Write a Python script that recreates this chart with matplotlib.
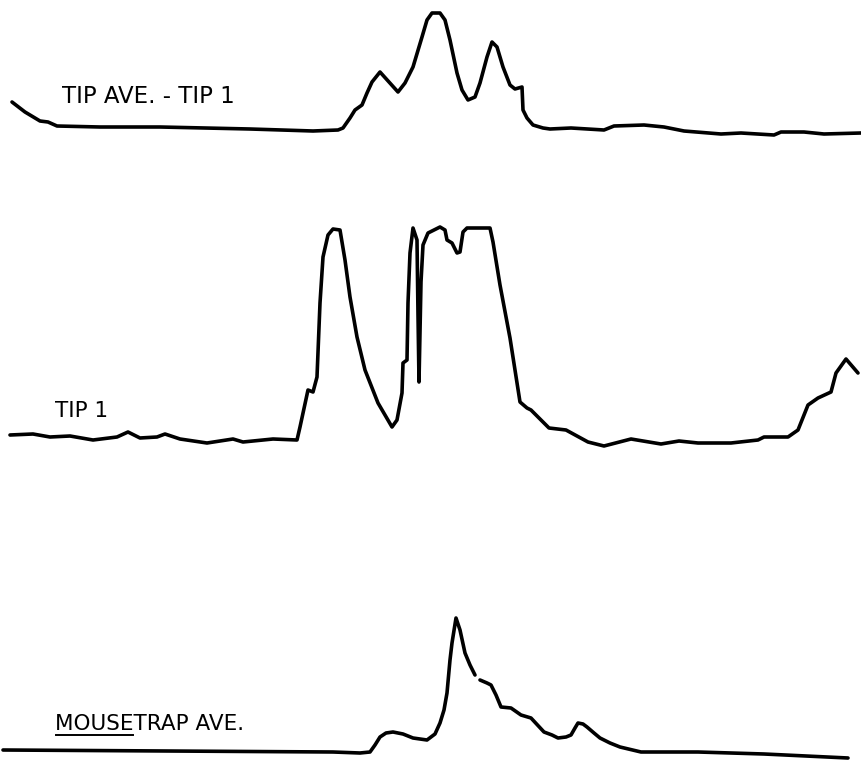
import numpy as np
import matplotlib
matplotlib.use("Agg")
import matplotlib.pyplot as plt

# Trace 1: TIP AVE. - TIP 1  (x, y in chart units; y grows downward)
tip_diff_x = [12, 25, 40, 48, 57, 100, 160, 250, 313, 338, 343, 350, 355, 362, 367, 372, 380,
              398, 405, 413, 422, 427, 432, 440, 445, 450, 457, 462, 468, 475, 480, 487, 492,
              497, 503, 510, 515, 522, 523, 527, 533, 543,
              550, 571, 604, 614, 644, 664, 684, 721, 741, 774, 781, 804, 824, 861]
tip_diff_y = [102, 112, 121, 122, 126, 127, 127, 129, 131, 130, 128, 118, 110, 105, 93, 82, 72,
              92, 83, 67, 37, 20, 13, 13, 20, 40, 73, 90, 100, 97, 83, 57, 42,
              47, 67, 85, 89, 87, 110, 118, 125, 128,
              129, 128, 130, 126, 125, 127, 131, 134, 133, 135, 132, 132, 134, 133]

# Trace 2: TIP 1
tip1_x = [10, 33, 50, 70, 93, 117, 128, 140, 157, 165, 180, 207, 233, 243, 273, 297,
          300, 308, 313, 317, 320, 323, 328, 333, 340, 345, 350, 357, 365, 378, 392,
          397, 402, 403, 407, 408, 410, 413, 417, 418, 419, 421, 423, 428, 440, 445,
          447, 452, 457, 460, 463, 467, 490, 493, 500, 510, 520, 527,
          531, 549, 566, 588, 604, 631, 661, 679, 698,
          731, 758, 764, 788, 798, 808, 818, 831, 836, 846, 858]
tip1_y = [435, 434, 437, 436, 440, 437, 432, 438, 437, 434, 439, 443, 439, 442, 439, 440,
          427, 390, 392, 377, 303, 257, 235, 229, 230, 260, 297, 337, 370, 403, 427,
          420, 393, 363, 360, 303, 253, 228, 240, 315, 382, 282, 245, 233, 227, 230,
          240, 243, 253, 252, 232, 228, 228, 242, 285, 338, 402, 408,
          410, 428, 430, 442, 446, 439, 444, 441, 443,
          443, 440, 437, 437, 430, 405, 398, 392, 373, 359, 373]

# Trace 3: MOUSETRAP AVE.
mouse_x = [3, 167, 333, 360, 370, 375, 380, 386, 393, 403, 413, 427, 435, 440, 444,
           447, 450, 452, 456, 460, 465, 470, 475, 478, 480, 487, 491, 496, 501, 511,
           521, 531, 544, 552, 558, 566, 571, 575, 578, 583, 587, 594, 600, 610,
           620, 641, 698, 764, 848]
mouse_y = [750, 751, 752, 753, 752, 745, 737, 733, 732, 734, 738, 740, 734, 723, 710,
           693, 660, 643, 618, 630, 653, 665, 675, np.nan, 680, 683, 685, 695, 707, 708,
           715, 718, 732, 735, 738, 737, 735, 728, 723, 724, 727, 733, 738, 743,
           747, 752, 752, 754, 758]

labels = ["TIP AVE. - TIP 1", "TIP 1", "MOUSETRAP AVE."]
label_x = [62, 55, 55]
label_y = [103, 417, 730]
label_size = [16.5, 15.5, 15.5]

fig = plt.figure(figsize=(8.62, 7.64), dpi=100)
ax = fig.add_axes([0, 0, 1, 1])
ax.set_xlim(0, 862)
ax.set_ylim(764, 0)
ax.axis("off")

lw = 2.6
style = dict(color="black", lw=lw, solid_joinstyle="round", solid_capstyle="round")
ax.plot(tip_diff_x, tip_diff_y, **style)
ax.plot(tip1_x, tip1_y, **style)
ax.plot(mouse_x, mouse_y, **style)

font = dict(family="DejaVu Sans", color="black", va="baseline", ha="left")
for t, x, y, s in zip(labels, label_x, label_y, label_size):
    ax.text(x, y, t, fontsize=s, **font)

# underline beneath "MOUSE", sized from the rendered word
renderer = fig.canvas.get_renderer()
probe = ax.text(label_x[2], label_y[2], "MOUSE", fontsize=label_size[2], **font)
bb = probe.get_window_extent(renderer=renderer).transformed(ax.transData.inverted())
probe.remove()
ax.plot([bb.x0 + 1, bb.x1 - 1], [label_y[2] + 5, label_y[2] + 5], color="black", lw=1.4)

fig.savefig("out.png", dpi=100)
